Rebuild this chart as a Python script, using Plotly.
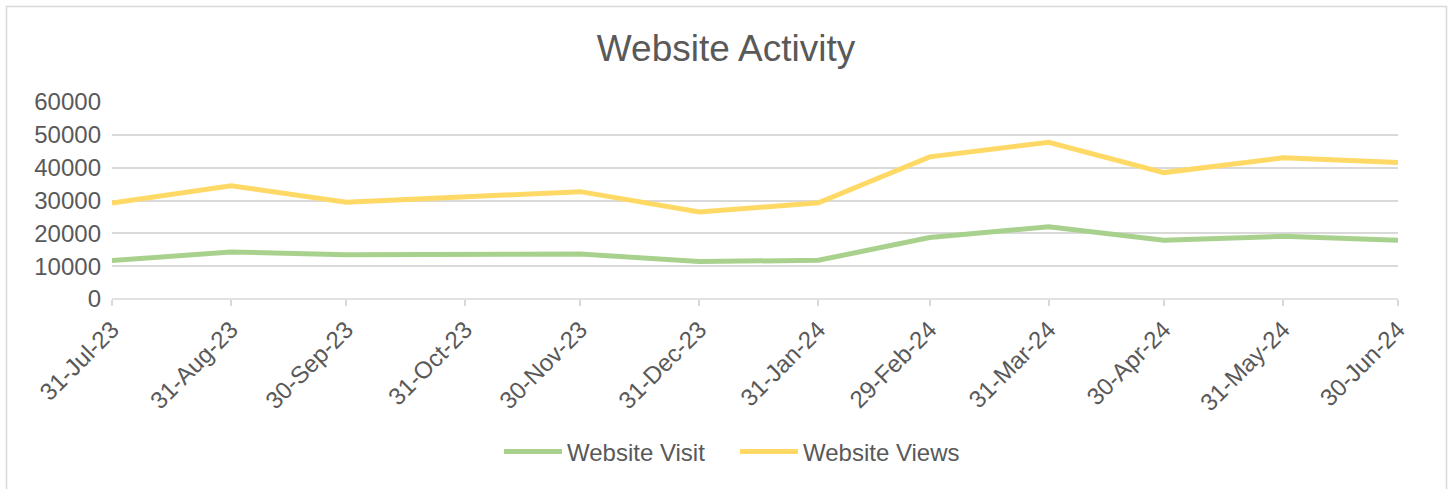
import plotly.graph_objects as go

dates = ["2023-07-31", "2023-08-31", "2023-09-30", "2023-10-31", "2023-11-30", "2023-12-31",
         "2024-01-31", "2024-02-29", "2024-03-31", "2024-04-30", "2024-05-31", "2024-06-30"]
tick_labels = ["31-Jul-23", "31-Aug-23", "30-Sep-23", "31-Oct-23", "30-Nov-23", "31-Dec-23",
               "31-Jan-24", "29-Feb-24", "31-Mar-24", "30-Apr-24", "31-May-24", "30-Jun-24"]
website_visit = [11700, 14300, 13500, 13600, 13700, 11400, 11800, 18700, 22000, 17900, 19100, 17900]
website_views = [29200, 34500, 29500, 31000, 32700, 26500, 29300, 43300, 47700, 38500, 43000, 41600]
y_ticks = [0, 10000, 20000, 30000, 40000, 50000, 60000]

W, H = 1452, 489
L, R, T, B = 112, 54, 102, 190
pw, ph = W - L - R, H - T - B

def px_x(p):
    return (p - L) / pw

def px_y(p):
    return (H - B - p) / ph

FONT = "Liberation Sans, Arial, sans-serif"
GRAY = "#595959"
GRID = "#d9d9d9"

fig = go.Figure()
fig.add_trace(go.Scatter(x=dates, y=website_visit, name="Website Visit", mode="lines",
                         line=dict(color="#a9d18e", width=5)))
fig.add_trace(go.Scatter(x=dates, y=website_views, name="Website Views", mode="lines",
                         line=dict(color="#ffd966", width=5)))

fig.update_layout(
    width=W, height=H,
    margin=dict(l=L, r=R, t=T, b=B),
    paper_bgcolor="white", plot_bgcolor="white",
    font=dict(family=FONT, color=GRAY, size=24),
    title=dict(text="Website Activity", x=0.5, xref="container", xanchor="center",
               y=1 - 48 / H, yref="container", yanchor="middle",
               font=dict(size=37, color=GRAY, family=FONT)),
    showlegend=True,
    legend=dict(orientation="h", x=px_x(499), xanchor="left", y=px_y(452), yanchor="middle",
                font=dict(size=24, color=GRAY, family=FONT), itemwidth=58,
                entrywidth=163, entrywidthmode="pixels",
                bgcolor="rgba(0,0,0,0)"),
    xaxis=dict(type="date", range=[dates[0], dates[-1]], tickvals=dates, ticktext=tick_labels,
               tickangle=-45, showgrid=False, ticks="outside", ticklen=6, tickwidth=1.5,
               tickcolor=GRID, showline=False, zeroline=False,
               tickfont=dict(size=24, color=GRAY, family=FONT)),
    yaxis=dict(range=[0, 60000], tickvals=y_ticks, tickformat="d", showgrid=True,
               gridcolor=GRID, gridwidth=1.5, zeroline=False, showline=False,
               ticklabelstandoff=10,
               tickfont=dict(size=24, color=GRAY, family=FONT)),
    shapes=[
        dict(type="rect", xref="paper", yref="paper",
             x0=px_x(6.5), x1=px_x(1446.5), y0=px_y(500), y1=px_y(6.5),
             line=dict(color=GRID, width=1.5), fillcolor="rgba(0,0,0,0)", layer="below"),
        dict(type="line", xref="paper", yref="paper", x0=0, x1=1, y0=0, y1=0,
             line=dict(color=GRID, width=1.5), layer="below"),
    ],
)

fig.write_html("out.html", config={"displayModeBar": False},
               post_script="document.body.style.margin='0px';document.body.style.overflow='hidden';")
